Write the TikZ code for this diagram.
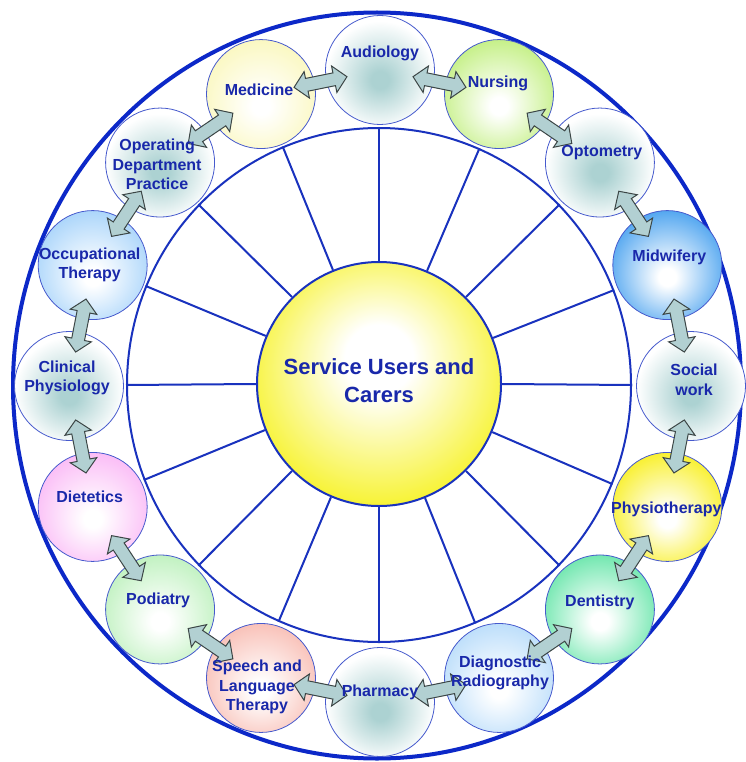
\documentclass[tikz,border=0pt]{standalone}
\usepackage{fontspec}
\setmainfont{Liberation Sans}
\usetikzlibrary{calc,shapes.geometric}

\definecolor{ringblue}{RGB}{12,40,200}
\definecolor{spokeblue}{RGB}{25,50,190}
\definecolor{circline}{RGB}{70,90,205}
\definecolor{txtblue}{RGB}{25,40,170}
\definecolor{tealc}{RGB}{172,210,210}
\definecolor{arrfill}{RGB}{178,208,210}
\definecolor{arrline}{RGB}{60,70,70}
\definecolor{sunyellow}{RGB}{245,240,0}
\definecolor{medc}{RGB}{250,247,185}
\definecolor{nurc}{RGB}{190,238,120}
\definecolor{midc}{RGB}{60,155,238}
\definecolor{phyc}{RGB}{248,238,20}
\definecolor{denc}{RGB}{95,228,165}
\definecolor{diac}{RGB}{180,218,250}
\definecolor{spec}{RGB}{248,185,175}
\definecolor{podc}{RGB}{185,240,185}
\definecolor{diec}{RGB}{250,180,245}
\definecolor{occc}{RGB}{160,208,250}

\colorlet{ballcol}{white}
\pgfdeclareradialshading[ballcol]{myball}{\pgfpoint{0bp}{-6bp}}{color(0bp)=(white); color(4bp)=(white); color(31bp)=(ballcol); color(50bp)=(ballcol)}
\pgfdeclareradialshading{tealball}{\pgfpoint{0bp}{-5bp}}{color(0bp)=(tealc); color(4bp)=(tealc); color(25bp)=(white); color(50bp)=(white)}
\pgfdeclareradialshading{sunball}{\pgfpoint{0bp}{6bp}}{color(0bp)=(white); color(7bp)=(white); color(33bp)=(sunyellow); color(50bp)=(sunyellow)}

\tikzset{
  ballcolset/.code={\colorlet{ballcol}{#1}},
  circ/.style={circle, draw=circline, line width=0.8pt, minimum size=109pt, inner sep=0pt},
  colball/.style={circ, ballcolset=#1, shade, shading=myball},
  tealb/.style={circ, shade, shading=tealball},
  lbl/.style={font=\bfseries\fontsize{16}{19.5}\selectfont, text=txtblue, align=center, inner sep=0pt},
  arr/.style={fill=arrfill, draw=arrline, line width=1pt, line join=miter},
  spoke/.style={draw=spokeblue, line width=2pt},
  dblarr/.pic={\path[arr] (-27,0) -- (-14,-13.5) -- (-14,-6.5) -- (14,-6.5) -- (14,-13.5) -- (27,0) -- (14,13.5) -- (14,6.5) -- (-14,6.5) -- (-14,13.5) -- cycle;}
}

\begin{document}
\begin{tikzpicture}[x=1pt,y=-1pt]
\fill[white] (0,0) rectangle (745,762);
\useasboundingbox (0,0) rectangle (745,762);

% rings
\node[ellipse, draw=ringblue, line width=4pt, minimum width=728pt, minimum height=746pt, inner sep=0pt] (outer) at (377,385.5) {};
\node[ellipse, draw=spokeblue, line width=2pt, minimum width=504pt, minimum height=514pt, inner sep=0pt] (ring) at (379,385) {};

% centre
\node[circle, shade, shading=sunball, draw=spokeblue, line width=2pt, minimum size=244pt, inner sep=0pt] (suc) at (379,384) {};
\foreach \k [evaluate=\k as \a using \k*22.5] in {0,...,15}
  \draw[spoke] (suc.\a) -- (ring.\a);
\node[lbl, font=\bfseries\fontsize{22}{28}\selectfont] (suc-t) at (379,381) {Service Users and\\Carers};

% outer circles
\node[tealb] (aud) at ({380+311*cos(90)},{386-316*sin(90)}) {};
\node[colball=nurc] (nur) at ({380+311*cos(67.5)},{386-316*sin(67.5)}) {};
\node[tealb] (opt) at ({380+311*cos(45)},{386-316*sin(45)}) {};
\node[colball=midc] (mid) at ({380+311*cos(22.5)},{386-316*sin(22.5)}) {};
\node[tealb] (soc) at ({380+311*cos(0)},{386-316*sin(0)}) {};
\node[colball=phyc] (phy) at ({380+311*cos(-22.5)},{386-316*sin(-22.5)}) {};
\node[colball=denc] (den) at ({380+311*cos(-45)},{386-316*sin(-45)}) {};
\node[colball=diac] (dia) at ({380+311*cos(-67.5)},{386-316*sin(-67.5)}) {};
\node[tealb] (pha) at ({380+311*cos(-90)},{386-316*sin(-90)}) {};
\node[colball=spec] (spe) at ({380+311*cos(-112.5)},{386-316*sin(-112.5)}) {};
\node[colball=podc] (pod) at ({380+311*cos(-135)},{386-316*sin(-135)}) {};
\node[colball=diec] (die) at ({380+311*cos(-157.5)},{386-316*sin(-157.5)}) {};
\node[tealb] (cli) at ({380+311*cos(180)},{386-316*sin(180)}) {};
\node[colball=occc] (occ) at ({380+311*cos(157.5)},{386-316*sin(157.5)}) {};
\node[tealb] (ope) at ({380+311*cos(135)},{386-316*sin(135)}) {};
\node[colball=medc] (med) at ({380+311*cos(112.5)},{386-316*sin(112.5)}) {};

% arrows
\foreach \a/\b in {aud/nur, nur/opt, opt/mid, mid/soc, soc/phy, phy/den, den/dia, dia/pha, pha/spe, spe/pod, pod/die, die/cli, cli/occ, occ/ope, ope/med, med/aud}
  \path let \p1=($(\b)-(\a)$), \n1={atan2(\y1,\x1)} in ($(\a)!0.5!(\b)$) pic[rotate=\n1] {dblarr};

% labels
\node[lbl] (aud-t) at ($(aud)+(0,-17)$) {Audiology};
\node[lbl] (nur-t) at ($(nur)+(-1,-11)$) {Nursing};
\node[lbl] (opt-t) at ($(opt)+(2,-10)$) {Optometry};
\node[lbl] (mid-t) at ($(mid)+(2,-8)$) {Midwifery};
\node[lbl] (soc-t) at ($(soc)+(3,-6)$) {Social\\work};
\node[lbl] (phy-t) at ($(phy)+(-1,2)$) {Physiotherapy};
\node[lbl] (den-t) at ($(den)+(0,-7)$) {Dentistry};
\node[lbl] (dia-t) at ($(dia)+(1,-5)$) {Diagnostic\\Radiography};
\node[lbl] (pha-t) at ($(pha)+(0,-10)$) {Pharmacy};
\node[lbl] (spe-t) at ($(spe)+(-4,9)$) {Speech and\\Language\\Therapy};
\node[lbl] (pod-t) at ($(pod)+(-2,-9)$) {Podiatry};
\node[lbl] (die-t) at ($(die)+(-3,-10)$) {Dietetics};
\node[lbl] (cli-t) at ($(cli)+(-2,-8)$) {Clinical\\Physiology};
\node[lbl] (occ-t) at ($(occ)+(-3,0)$) {Occupational\\Therapy};
\node[lbl] (ope-t) at ($(ope)+(-3,2)$) {Operating\\Department\\Practice};
\node[lbl] (med-t) at ($(med)+(-2,-4)$) {Medicine};
\end{tikzpicture}
\end{document}
